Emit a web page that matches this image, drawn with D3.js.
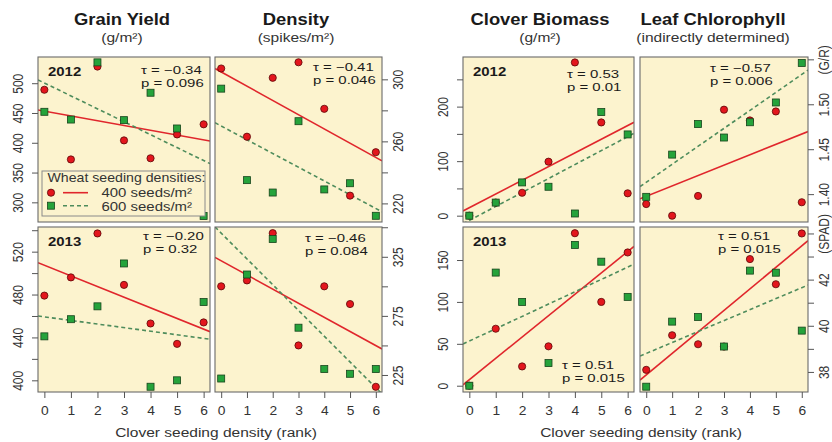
<!DOCTYPE html>
<html>
<head>
<meta charset="utf-8">
<script src="https://cdnjs.cloudflare.com/ajax/libs/d3/7.8.5/d3.min.js"></script>
<style>
body { margin: 0; background: #fff; }
text { font-family: "Liberation Sans", Arial, sans-serif; }
</style>
</head>
<body>
<script>
// clover seeding density ranks (x axis)
var ranks = [0, 1, 2, 3, 4, 5, 6];

// Grain yield (g/m2), 400 and 600 wheat seeds/m2
var grain2012_400 = [489, 372, 528, 404, 374, 414, 431];
var grain2012_600 = [452, 439, 535, 438, 484, 424, 277];
var grain2013_400 = [479, 496, 537, 489, 453, 434, 454];
var grain2013_600 = [441, 457, 469, 509, 394, 400, 473];

// Density (spikes/m2)
var dens2012_400 = [307, 263, 301, 311, 281, 225, 253];
var dens2012_600 = [294, 235, 227, 273, 229, 233, 212];
var dens2013_400 = [300, 305, 345, 250, 300, 285, 215];
var dens2013_600 = [222, 310, 340, 265, 230, 226, 230];

// Clover biomass (g/m2)
var clover2012_400 = [0, 24, 42, 99, 281, 171, 41];
var clover2012_600 = [0, 24, 61, 53, 4, 190, 149];
var clover2013_400 = [0, 68, 23, 47, 182, 100, 159];
var clover2013_600 = [0, 135, 100, 27, 168, 148, 106];

// Leaf chlorophyll (G/R in 2012, SPAD in 2013)
var leaf2012_400 = [1.389, 1.376, 1.398, 1.494, 1.482, 1.492, 1.391];
var leaf2012_600 = [1.397, 1.444, 1.478, 1.463, 1.480, 1.502, 1.546];
var leaf2013_400 = [38.09, 39.59, 39.2, 39.1, 42.89, 41.8, 44.0];
var leaf2013_600 = [37.36, 40.18, 40.38, 39.1, 42.39, 42.3, 39.79];

// fitted lines, panel order: grain12, grain13, dens12, dens13, clover12, clover13, leaf12, leaf13
var int400 = [453, 507.3, 304.8, 321.6, 14.6, 7.1, 1.3976, 37.87];
var slope400 = [-8.0, -9.92, -9.2, -11.96, 25.1, 25.5, 0.01154, 0.932];
var int600 = [500.4, 459.2, 269.9, 345, -8.7, 53.3, 1.4132, 38.8];
var slope600 = [-21.7, -3.35, -8.86, -21.8, 25.6, 14.7, 0.02, 0.475];

// Kendall tau and p values
var tauText = ["τ = −0.34", "τ = −0.20", "τ = −0.41", "τ = −0.46", "τ = 0.53", "τ = 0.51", "τ = −0.57", "τ = 0.51"];
var pText = ["p = 0.096", "p = 0.32", "p = 0.046", "p = 0.084", "p = 0.01", "p = 0.015", "p = 0.006", "p = 0.015"];

// y axis ticks and labels
var grainTicks2012 = [300, 350, 400, 450, 500];
var grainLabels2012 = ["300", "350", "400", "450", "500"];
var grainTicks2013 = [400, 420, 440, 460, 480, 500, 520, 540];
var grainLabels2013 = ["400", "", "440", "", "480", "", "520", ""];
var densTicks2012 = [220, 240, 260, 280, 300];
var densLabels2012 = ["220", "", "260", "", "300"];
var densTicks2013 = [225, 250, 275, 300, 325, 350];
var densLabels2013 = ["225", "", "275", "", "325", ""];
var cloverTicks2012 = [0, 50, 100, 150, 200, 250];
var cloverLabels2012 = ["0", "", "100", "", "200", ""];
var cloverTicks2013 = [0, 50, 100, 150];
var cloverLabels2013 = ["0", "50", "100", "150"];
var leafTicks2012 = [1.40, 1.45, 1.50, 1.55];
var leafLabels2012 = ["1.40", "1.45", "1.50", "(G/R)"];
var leafTicks2013 = [38, 39, 40, 41, 42, 43, 44];
var leafLabels2013 = ["38", "", "40", "", "42", "", "(SPAD)"];

var colTitles = ["Grain Yield", "Density", "Clover Biomass", "Leaf Chlorophyll"];
var colUnits = ["(g/m²)", "(spikes/m²)", "(g/m²)", "(indirectly determined)"];
var years = ["2012", "2013"];
var legendTitle = "Wheat seeding densities:";
var legendItems = ["400 seeds/m²", "600 seeds/m²"];
var xTitle = "Clover seeding density (rank)";

// ---- layout ----
var w = 832, h = 442;
var SX = 1.15;   // text in the picture is a bit wide
var bg = "#fcf3ce", red = "#e3161d", green = "#25a33b";
var redLine = "#e0262c", greenLine = "#4e8c5c";
var cols = [{x0: 38, x1: 210}, {x0: 215, x1: 382}, {x0: 463, x1: 634}, {x0: 640, x1: 808}];
var rows = [{y0: 57, y1: 222}, {y0: 227, y1: 392}];
var xDomain = [-0.24, 6.24];

var panels = [
  {col: 0, row: 0, a: grain2012_400, b: grain2012_600, dom: [267, 544], ticks: grainTicks2012, labels: grainLabels2012, side: "left", stat: [141, 74]},
  {col: 0, row: 1, a: grain2013_400, b: grain2013_600, dom: [389.1, 543], ticks: grainTicks2013, labels: grainLabels2013, side: "left", stat: [143, 240]},
  {col: 1, row: 0, a: dens2012_400, b: dens2012_600, dom: [208, 314.4], ticks: densTicks2012, labels: densLabels2012, side: "right", stat: [313, 70.5]},
  {col: 1, row: 1, a: dens2013_400, b: dens2013_600, dom: [210.6, 350.2], ticks: densTicks2013, labels: densLabels2013, side: "right", stat: [305, 242]},
  {col: 2, row: 0, a: clover2012_400, b: clover2012_600, dom: [-11.6, 291], ticks: cloverTicks2012, labels: cloverLabels2012, side: "left", stat: [567, 78]},
  {col: 2, row: 1, a: clover2013_400, b: clover2013_600, dom: [-7.5, 189.4], ticks: cloverTicks2013, labels: cloverLabels2013, side: "left", stat: [562, 369]},
  {col: 3, row: 0, a: leaf2012_400, b: leaf2012_600, dom: [1.369, 1.5526], ticks: leafTicks2012, labels: leafLabels2012, side: "right", stat: [710, 71.5]},
  {col: 3, row: 1, a: leaf2013_400, b: leaf2013_600, dom: [37.13, 44.28], ticks: leafTicks2013, labels: leafLabels2013, side: "right", stat: [718, 240]}
];

var svg = d3.select("body").append("svg")
  .attr("width", w)
  .attr("height", h);

// text helper, stretched horizontally like the original
function putText(g, x, y, str, size, opt) {
  opt = opt || {};
  return g.append("text")
    .attr("transform", "translate(" + x + "," + y + ") scale(" + (opt.sx || SX) + ",1)" + (opt.rotate ? " rotate(" + opt.rotate + ")" : ""))
    .attr("text-anchor", opt.anchor || "start")
    .attr("font-size", size + "px")
    .attr("font-weight", opt.bold ? "bold" : null)
    .attr("fill", opt.fill || "#1a1a1a")
    .text(str);
}

function drawCircle(g, cx, cy) {
  g.append("circle").attr("cx", cx).attr("cy", cy).attr("r", 3.6)
    .attr("fill", red).attr("stroke", "#5a0808").attr("stroke-width", 0.8);
}
function drawSquare(g, cx, cy) {
  g.append("rect").attr("x", cx - 3.5).attr("y", cy - 3.5).attr("width", 7).attr("height", 7)
    .attr("fill", green).attr("stroke", "#17441c").attr("stroke-width", 0.8);
}

panels.forEach(function(p, i) {
  var c = cols[p.col], r = rows[p.row];
  var x = d3.scaleLinear().domain(xDomain).range([c.x0, c.x1]);
  var y = d3.scaleLinear().domain(p.dom).range([r.y1, r.y0]);
  var g = svg.append("g");

  g.append("clipPath").attr("id", "clip" + i)
    .append("rect").attr("x", c.x0).attr("y", r.y0).attr("width", c.x1 - c.x0).attr("height", r.y1 - r.y0);

  g.append("rect")
    .attr("x", c.x0).attr("y", r.y0)
    .attr("width", c.x1 - c.x0).attr("height", r.y1 - r.y0)
    .attr("fill", bg);

  // fitted lines
  var lg = g.append("g").attr("clip-path", "url(#clip" + i + ")");
  lg.append("line")
    .attr("x1", x(xDomain[0])).attr("y1", y(int400[i] + slope400[i] * xDomain[0]))
    .attr("x2", x(xDomain[1])).attr("y2", y(int400[i] + slope400[i] * xDomain[1]))
    .attr("stroke", redLine).attr("stroke-width", 1.6);
  lg.append("line")
    .attr("x1", x(xDomain[0])).attr("y1", y(int600[i] + slope600[i] * xDomain[0]))
    .attr("x2", x(xDomain[1])).attr("y2", y(int600[i] + slope600[i] * xDomain[1]))
    .attr("stroke", greenLine).attr("stroke-width", 1.6).attr("stroke-dasharray", "4,3");

  // points, 400 first then 600 on top
  var pg = g.append("g").attr("clip-path", "url(#clip" + i + ")");
  ranks.forEach(function(k, j) { drawCircle(pg, x(k), y(p.a[j])); });
  ranks.forEach(function(k, j) { drawSquare(pg, x(k), y(p.b[j])); });

  // frame
  g.append("rect")
    .attr("x", c.x0).attr("y", r.y0)
    .attr("width", c.x1 - c.x0).attr("height", r.y1 - r.y0)
    .attr("fill", "none").attr("stroke", "#6a6a6a").attr("stroke-width", 1.1);

  // y axis
  var axis = (p.side == "left" ? d3.axisLeft(y) : d3.axisRight(y))
    .tickValues(p.ticks)
    .tickSize(6)
    .tickFormat(function(d) { return p.labels[p.ticks.indexOf(d)]; });
  var ag = g.append("g")
    .attr("transform", "translate(" + (p.side == "left" ? c.x0 : c.x1) + ",0)")
    .call(axis);
  ag.select(".domain").remove();
  ag.attr("font-size", null).attr("font-family", null).attr("text-anchor", "middle");
  ag.selectAll(".tick line").attr("stroke", "#555");
  var off = p.side == "left" ? -15 : 21;
  ag.selectAll(".tick text")
    .attr("x", null).attr("dy", null)
    .attr("transform", "translate(" + off + ",0) scale(" + SX + ",1) rotate(-90)")
    .attr("font-size", "12px")
    .attr("fill", "#333");

  // x axis on the bottom row
  if (p.row == 1) {
    var xg = g.append("g")
      .attr("transform", "translate(0," + r.y1 + ")")
      .call(d3.axisBottom(x).tickValues(ranks).tickSize(6).tickFormat(d3.format("d")));
    xg.select(".domain").remove();
    xg.attr("font-size", null).attr("font-family", null);
    xg.selectAll(".tick line").attr("stroke", "#555");
    xg.selectAll(".tick text")
      .attr("y", null).attr("dy", null)
      .attr("transform", "translate(0,23) scale(" + SX + ",1)")
      .attr("font-size", "12px")
      .attr("fill", "#333");
  }

  // year label in the first and third column
  if (p.col == 0 || p.col == 2) {
    putText(g, c.x0 + 10, r.y0 + 19, years[p.row], 13, {bold: true});
  }

  // stats, two stacked lines
  putText(g, p.stat[0], p.stat[1], tauText[i], 11.5, {sx: 1.3});
  putText(g, p.stat[0], p.stat[1] + 13, pText[i], 11.5, {sx: 1.3});
});

// legend in the first panel
var leg = svg.append("g");
leg.append("rect")
  .attr("x", 42).attr("y", 171).attr("width", 163).attr("height", 45)
  .attr("fill", bg).attr("stroke", "#8a8a8a").attr("stroke-width", 1);
putText(leg, 47.5, 181.5, legendTitle, 12.3, {fill: "#333"});
leg.append("line").attr("x1", 63).attr("x2", 88).attr("y1", 192.7).attr("y2", 192.7)
  .attr("stroke", redLine).attr("stroke-width", 1.6);
leg.append("line").attr("x1", 63).attr("x2", 88).attr("y1", 205.7).attr("y2", 205.7)
  .attr("stroke", greenLine).attr("stroke-width", 1.6).attr("stroke-dasharray", "4,3");
drawCircle(leg, 51, 192.7);
drawSquare(leg, 51, 205.7);
putText(leg, 101.5, 197, legendItems[0], 13, {fill: "#333"});
putText(leg, 101.5, 210.5, legendItems[1], 13, {fill: "#333"});

// column titles
var titleX = [122, 296, 540, 713];
colTitles.forEach(function(t, j) {
  putText(svg, titleX[j], 25, t, 16, {bold: true, anchor: "middle"});
  putText(svg, titleX[j], 42, colUnits[j], 13.5, {anchor: "middle", fill: "#333"});
});

// x axis titles, one per group
[216, 641].forEach(function(cx) {
  putText(svg, cx, 437, xTitle, 13.5, {anchor: "middle", fill: "#333"});
});
</script>
</body>
</html>
